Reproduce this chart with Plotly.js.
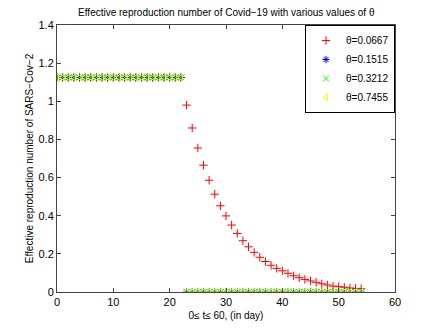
<!DOCTYPE html>
<html>
<head>
<meta charset="utf-8">
<script src="https://cdn.plot.ly/plotly-3.0.1.min.js"></script>
<style>
  body { margin: 0; background: #fff; }
  #chart { width: 436px; height: 328px; }
</style>
</head>
<body>
<div id="chart"></div>
<script>
// days before / after the switch at t = 23
var daysBefore = [0, 1, 2, 3, 4, 5, 6, 7, 8, 9, 10, 11, 12, 13, 14, 15, 16, 17, 18, 19, 20, 21, 22];
var daysAfter = [23, 24, 25, 26, 27, 28, 29, 30, 31, 32, 33, 34, 35, 36, 37, 38, 39, 40,
                 41, 42, 43, 44, 45, 46, 47, 48, 49, 50, 51, 52, 53, 54];

var rBefore = [1.125, 1.125, 1.125, 1.125, 1.125, 1.125, 1.125, 1.125, 1.125, 1.125, 1.125, 1.125,
               1.125, 1.125, 1.125, 1.125, 1.125, 1.125, 1.125, 1.125, 1.125, 1.125, 1.125];

// theta = 0.0667 decays slowly
var rTheta1After = [0.98, 0.86, 0.755, 0.665, 0.586, 0.513, 0.452, 0.399, 0.351, 0.307, 0.269,
                    0.237, 0.208, 0.182, 0.16, 0.14, 0.124, 0.111, 0.098, 0.085, 0.075, 0.066,
                    0.058, 0.051, 0.043, 0.037, 0.031, 0.028, 0.025, 0.021, 0.019, 0.017];
// the larger thetas drop straight to zero
var rOtherAfter = [0, 0, 0, 0, 0, 0, 0, 0, 0, 0, 0, 0, 0, 0, 0, 0,
                   0, 0, 0, 0, 0, 0, 0, 0, 0, 0, 0, 0, 0, 0, 0, 0];

var thetaLabels = ['θ=0.0667', 'θ=0.1515', 'θ=0.3212', 'θ=0.7455'];
var colors = ['#ff0000', '#0000ff', '#00ff00', '#ffff00'];
var symbols = ['cross-thin-open', 'asterisk-open', 'x-thin-open', 'triangle-left-open'];

var allDays = daysBefore.concat(daysAfter);
var traces = [];
for (var i = 0; i < thetaLabels.length; i++) {
    var after = (i == 0) ? rTheta1After : rOtherAfter;
    traces.push({
        x: allDays,
        y: rBefore.concat(after),
        name: thetaLabels[i],
        type: 'scatter',
        mode: 'markers',
        marker: {
            symbol: symbols[i],
            size: 6,
            color: colors[i],
            line: {color: colors[i], width: 1}
        }
    });
}

var axisStyle = {
    showgrid: false,
    zeroline: false,
    showline: true,
    linecolor: '#444',
    linewidth: 1,
    mirror: 'allticks',
    ticks: 'inside',
    ticklen: 4,
    tickcolor: '#444',
    tickfont: {family: 'Liberation Sans, Arial', size: 11, color: '#000'}
};

var layout = {
    width: 436,
    height: 328,
    margin: {l: 57, r: 41, t: 25, b: 36},
    paper_bgcolor: '#fff',
    plot_bgcolor: '#fff',
    showlegend: true,
    font: {family: 'Liberation Sans, Arial', size: 10, color: '#000'},
    title: {
        text: 'Effective reproduction number of Covid\u221219 with various values of θ',
        font: {size: 10},
        x: 0.519, xanchor: 'center',
        y: 0.962, yanchor: 'middle'
    },
    xaxis: Object.assign({}, axisStyle, {
        range: [0, 60],
        tickvals: [0, 10, 20, 30, 40, 50, 60],
        title: {text: '0≤ t≤ 60, (in day)', font: {size: 10}, standoff: 4}
    }),
    yaxis: Object.assign({}, axisStyle, {
        range: [0, 1.4],
        tickvals: [0, 0.2, 0.4, 0.6, 0.8, 1, 1.2, 1.4],
        ticktext: ['0', '0.2', '0.4', '0.6', '0.8', '1', '1.2', '1.4'],
        title: {text: 'Effective reproduction number of SARS\u2212Cov\u22122', font: {size: 10}, standoff: 3}
    }),
    legend: {
        x: 1, xanchor: 'right',
        y: 1, yanchor: 'top',
        bgcolor: '#fff',
        bordercolor: '#000',
        borderwidth: 1,
        font: {size: 10},
        tracegroupgap: 0
    }
};

Plotly.newPlot('chart', traces, layout, {displayModeBar: false});
</script>
</body>
</html>
